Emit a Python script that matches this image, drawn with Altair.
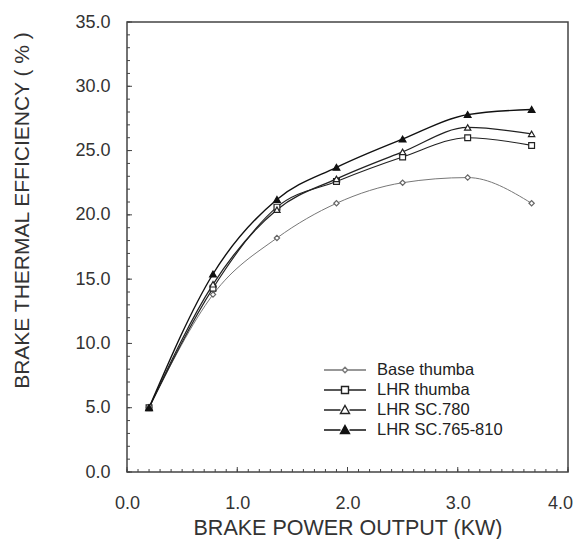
import altair as alt
import pandas as pd

# ---- data ----
x_kw = [0.2, 0.78, 1.36, 1.9, 2.5, 3.09, 3.67]
series_names = ["Base thumba", "LHR thumba", "LHR SC.780", "LHR SC.765-810"]
base_thumba = [5.0, 13.8, 18.2, 20.9, 22.5, 22.9, 20.9]
lhr_thumba = [5.0, 14.3, 20.6, 22.6, 24.5, 26.0, 25.4]
lhr_sc780 = [5.0, 14.6, 20.4, 22.8, 24.9, 26.8, 26.3]
lhr_sc765_810 = [5.0, 15.4, 21.2, 23.7, 25.9, 27.8, 28.2]

y_major = [0, 5, 10, 15, 20, 25, 30, 35]
y_minor = list(range(0, 36))
x_major = [0, 1, 2, 3, 4]
x_minor = [round(i * 0.1, 1) for i in range(41)]

rows = []
for name, vals in zip(series_names, [base_thumba, lhr_thumba, lhr_sc780, lhr_sc765_810]):
    for xv, yv in zip(x_kw, vals):
        rows.append({"series": name, "x": xv, "y": yv})
df = pd.DataFrame(rows)

FONT = "Liberation Sans"
xs = alt.Scale(domain=[0, 4], nice=False, zero=False)
ys = alt.Scale(domain=[0, 35], nice=False, zero=False)

xaxis = alt.Axis(values=x_major, format=".1f", ticks=False, domain=False, grid=False,
                 labelFontSize=18, labelFont=FONT, labelColor="#333", labelPadding=22,
                 labelFlush=False,
                 labelOffset={"condition": {"test": "datum.value == 4", "value": -8}, "value": 0},
                 title="BRAKE POWER OUTPUT (KW)", titleFont=FONT, titleFontSize=21.5,
                 titleFontWeight="normal", titleColor="#333", titleY=62,
                 titleBaseline="alphabetic")
yaxis = alt.Axis(values=y_major, format=".1f", ticks=False, domain=False, grid=False,
                 labelFontSize=18, labelFont=FONT, labelColor="#333", labelPadding=17,
                 labelFlush=False,
                 title="BRAKE THERMAL EFFICIENCY ( % )", titleFont=FONT, titleFontSize=21,
                 titleFontWeight="normal", titleColor="#333", titleX=-105, titleY=188,
                 titleBaseline="middle", titleAlign="center", titleAngle=270)

dom = series_names

lines = alt.Chart(df).mark_line(interpolate="monotone").encode(
    x=alt.X("x:Q", scale=xs, axis=xaxis),
    y=alt.Y("y:Q", scale=ys, axis=yaxis),
    color=alt.Color("series:N", scale=alt.Scale(domain=dom, range=["#777777", "#222222", "#222222", "#111111"]), legend=None),
    strokeWidth=alt.StrokeWidth("series:N", scale=alt.Scale(domain=dom, range=[1.0, 1.4, 1.4, 1.5]), legend=None),
)

points = alt.Chart(df).mark_point(filled=True, opacity=1, strokeWidth=1.2).encode(
    x=alt.X("x:Q", scale=xs, axis=xaxis),
    y=alt.Y("y:Q", scale=ys, axis=yaxis),
    shape=alt.Shape("series:N", scale=alt.Scale(domain=dom, range=["diamond", "square", "triangle-up", "triangle-up"]), legend=None),
    fill=alt.Fill("series:N", scale=alt.Scale(domain=dom, range=["white", "white", "white", "#111111"]), legend=None),
    stroke=alt.Stroke("series:N", scale=alt.Scale(domain=dom, range=["#666666", "#222222", "#222222", "#111111"]), legend=None),
    size=alt.Size("series:N", scale=alt.Scale(domain=dom, range=[28, 45, 70, 70]), legend=None),
)

# legend symbols: a line stub with the marker in its middle (path units = 10 px at size 400)
paths = [
    "M-2.1,0H-0.27M0.27,0H2.1M0,-0.27L0.27,0L0,0.27L-0.27,0Z",
    "M-2.1,0H-0.35M0.35,0H2.1M-0.35,-0.35H0.35V0.35H-0.35Z",
    "M-2.1,0H-0.45M0.45,0H2.1M0,-0.45L0.45,0.35L-0.45,0.35Z",
    "M-2.1,0H-0.45M0.45,0H2.1M0,-0.45L0.45,0.35L-0.45,0.35Z",
]
leg = alt.Legend(orient="none", legendX=207, legendY=337, title=None,
                 labelFont=FONT, labelFontSize=16.5, labelColor="#222",
                 symbolSize=400, symbolStrokeWidth=1.4, labelOffset=21,
                 rowPadding=-0.5, symbolOpacity=1)

legend_layer = alt.Chart(df).transform_filter("false").mark_point(filled=True, size=400).encode(
    x=alt.X("x:Q", scale=xs, axis=xaxis),
    y=alt.Y("y:Q", scale=ys, axis=yaxis),
    shape=alt.Shape("series:N", scale=alt.Scale(domain=dom, range=paths), legend=leg),
    fill=alt.Fill("series:N", scale=alt.Scale(domain=dom, range=["white", "white", "white", "#111111"]), legend=leg),
    stroke=alt.Stroke("series:N", scale=alt.Scale(domain=dom, range=["#777777", "#222222", "#222222", "#111111"]), legend=leg),
)

tick_color = "#444444"
y_minor_t = alt.Chart(pd.DataFrame({"v": y_minor})).mark_rule(color=tick_color, strokeWidth=1).encode(
    y=alt.Y("v:Q", scale=ys, axis=yaxis), x=alt.value(0), x2=alt.value(3))
y_major_t = alt.Chart(pd.DataFrame({"v": y_major})).mark_rule(color=tick_color, strokeWidth=1).encode(
    y=alt.Y("v:Q", scale=ys, axis=yaxis), x=alt.value(0), x2=alt.value(5))
x_minor_t = alt.Chart(pd.DataFrame({"v": x_minor})).mark_rule(color=tick_color, strokeWidth=1).encode(
    x=alt.X("v:Q", scale=xs, axis=xaxis), y=alt.value(450), y2=alt.value(447))
x_major_t = alt.Chart(pd.DataFrame({"v": x_major})).mark_rule(color=tick_color, strokeWidth=1).encode(
    x=alt.X("v:Q", scale=xs, axis=xaxis), y=alt.value(450), y2=alt.value(445))

chart = alt.layer(
    lines, y_minor_t, y_major_t, x_minor_t, x_major_t, points, legend_layer
).resolve_scale(
    shape="independent", fill="independent", stroke="independent", size="independent"
).properties(
    width=441, height=450,
    padding={"left": 119, "top": 14, "right": 6, "bottom": 67},
    autosize=alt.AutoSizeParams(type="none"),
    background="white",
).configure_view(
    stroke="#444444", strokeWidth=1.5
)

chart.save("out.html", embed_options={"renderer": "svg", "actions": False})
